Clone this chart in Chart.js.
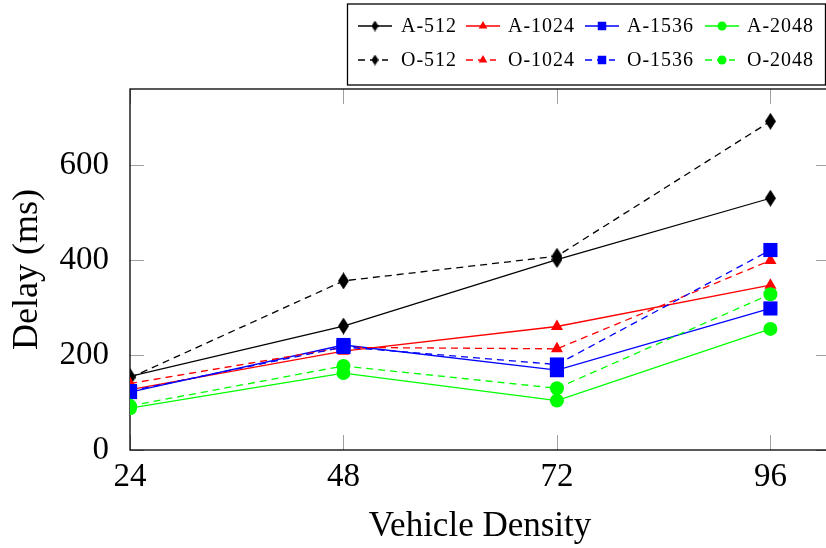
<!DOCTYPE html>
<html>
<head>
<meta charset="utf-8">
<script src="https://cdn.jsdelivr.net/npm/chart.js@4.4.1/dist/chart.umd.min.js"></script>
<style>
html, body { margin: 0; padding: 0; background: #fff; overflow: hidden; }
#wrap { width: 826px; height: 548px; overflow: hidden; }
</style>
</head>
<body>
<div id="wrap"><canvas id="myChart" width="840" height="548"></canvas></div>
<script>
// data
const densities = [24, 48, 72, 96];
const delayTicks = [0, 200, 400, 600];
const seriesNames = ['A-512', 'A-1024', 'A-1536', 'A-2048', 'O-512', 'O-1024', 'O-1536', 'O-2048'];
const a512  = [155, 261, 401, 530];
const a1024 = [127, 208, 260, 347];
const a1536 = [122, 221, 168, 298];
const a2048 = [88, 162, 104, 255];
const o512  = [152, 356, 408, 692];
const o1024 = [140, 216, 213, 399];
const o1536 = [124, 217, 180, 421];
const o2048 = [93, 177, 130, 328];

const seriesValues = [a512, a1024, a1536, a2048, o512, o1024, o1536, o2048];
const seriesColors = ['#000000', '#ff0000', '#0000ff', '#00ff00'];

Chart.defaults.font.family = '"Liberation Serif", "Times New Roman", serif';
Chart.defaults.color = '#000';

// tall diamond like pgfplots diamond*
function diamond(w, h) {
  const c = document.createElement('canvas');
  c.width = w; c.height = h;
  const g = c.getContext('2d');
  g.fillStyle = '#000';
  g.beginPath();
  g.moveTo(w / 2, 0);
  g.lineTo(w, h / 2);
  g.lineTo(w / 2, h);
  g.lineTo(0, h / 2);
  g.closePath();
  g.fill();
  return c;
}
const bigDiamond = diamond(11, 17);
const smallDiamond = diamond(7, 11);

const markStyles = [bigDiamond, 'triangle', 'rect', 'circle'];
const markRadius = [6, 7, 10, 7];
const legendStyles = [smallDiamond, 'triangle', 'rect', 'circle'];
const legendRadius = [5, 5, 6, 4.5];

let datasets = [];
seriesNames.forEach((name, i) => {
  const k = i % 4;
  datasets.push({
    label: name,
    data: densities.map((d, j) => ({ x: d, y: seriesValues[i][j] })),
    borderColor: seriesColors[k],
    backgroundColor: seriesColors[k],
    pointBorderColor: seriesColors[k],
    pointBackgroundColor: seriesColors[k],
    borderWidth: 1.3,
    borderDash: i < 4 ? [] : [7, 5],
    pointStyle: markStyles[k],
    pointRadius: markRadius[k],
    pointHoverRadius: markRadius[k],
    pointBorderWidth: 0,
    tension: 0,
    order: -i
  });
});

// frame + inner gray tick marks (pgfplots look)
const frameTicks = {
  id: 'frameTicks',
  beforeDatasetsDraw(chart) {
    const ctx = chart.ctx;
    const a = chart.chartArea;
    const xs = chart.scales.x, ys = chart.scales.y;
    ctx.save();
    ctx.strokeStyle = '#a0a0a0';
    ctx.lineWidth = 1;
    densities.forEach(v => {
      const px = Math.round(xs.getPixelForValue(v)) + 0.5;
      ctx.beginPath();
      ctx.moveTo(px, a.bottom); ctx.lineTo(px, a.bottom - 15);
      ctx.moveTo(px, a.top); ctx.lineTo(px, a.top + 15);
      ctx.stroke();
    });
    delayTicks.forEach(v => {
      const py = Math.round(ys.getPixelForValue(v)) + 0.5;
      ctx.beginPath();
      ctx.moveTo(a.left, py); ctx.lineTo(a.left + 14, py);
      ctx.moveTo(a.right, py); ctx.lineTo(a.right - 14, py);
      ctx.stroke();
    });
    ctx.strokeStyle = '#000';
    ctx.lineWidth = 1.3;
    ctx.strokeRect(a.left, a.top, a.right - a.left, a.bottom - a.top);
    ctx.restore();
  }
};

// legend with line sample + mark, 4 columns
const legendBox = {
  id: 'legendBox',
  afterDraw(chart) {
    const ctx = chart.ctx;
    const lineX = [358, 466, 585, 705];
    const textX = [401, 508, 627, 747];
    const rowY = [26, 60];
    ctx.save();
    ctx.fillStyle = '#fff';
    ctx.fillRect(347, 4, 478, 81);
    ctx.strokeStyle = '#000';
    ctx.lineWidth = 1.3;
    ctx.strokeRect(347.5, 4, 478, 81);
    chart.data.datasets.forEach((ds, i) => {
      const row = Math.floor(i / 4), k = i % 4;
      const y = rowY[row];
      const len = row === 0 ? 34 : 30;
      ctx.save();
      ctx.strokeStyle = ds.borderColor;
      ctx.lineWidth = 1.3;
      ctx.setLineDash(ds.borderDash);
      ctx.beginPath();
      ctx.moveTo(lineX[k], y);
      ctx.lineTo(lineX[k] + len, y);
      ctx.stroke();
      ctx.setLineDash([]);
      ctx.fillStyle = ds.backgroundColor;
      Chart.helpers.drawPoint(ctx, { pointStyle: legendStyles[k], radius: legendRadius[k], rotation: 0, borderWidth: 0 }, lineX[k] + 17, y);
      ctx.restore();
      ctx.fillStyle = '#000';
      ctx.font = '20px "Liberation Serif"';
      ctx.letterSpacing = '1px';
      ctx.textBaseline = 'middle';
      ctx.fillText(ds.label, textX[k], y + 1);
    });
    ctx.restore();
  }
};

var ctx = document.getElementById('myChart').getContext('2d');
var myChart = new Chart(ctx, {
  type: 'line',
  data: { datasets: datasets },
  options: {
    responsive: false,
    animation: false,
    devicePixelRatio: 1,
    layout: { padding: { top: 89, right: 7, bottom: 0, left: 0 } },
    plugins: { legend: { display: false }, tooltip: { enabled: false } },
    scales: {
      x: {
        type: 'linear',
        min: 24,
        max: 102.7,
        afterBuildTicks: s => { s.ticks = densities.map(v => ({ value: v })); },
        afterFit: s => { s.height = 98; },
        grid: { display: false },
        border: { display: false },
        ticks: { font: { size: 33 }, color: '#000', padding: 0, maxRotation: 0 },
        title: { display: true, text: 'Vehicle Density', font: { size: 35 }, color: '#000', padding: { top: 0, bottom: 0 } }
      },
      y: {
        min: 0,
        max: 760,
        afterBuildTicks: s => { s.ticks = delayTicks.map(v => ({ value: v })); },
        afterFit: s => { s.width = 130; },
        grid: { display: false },
        border: { display: false },
        ticks: { font: { size: 33 }, color: '#000', padding: 13 },
        title: { display: true, text: 'Delay (ms)', font: { size: 36 }, color: '#000', padding: { top: 6, bottom: 0 } }
      }
    }
  },
  plugins: [frameTicks, legendBox]
});
</script>
</body>
</html>
